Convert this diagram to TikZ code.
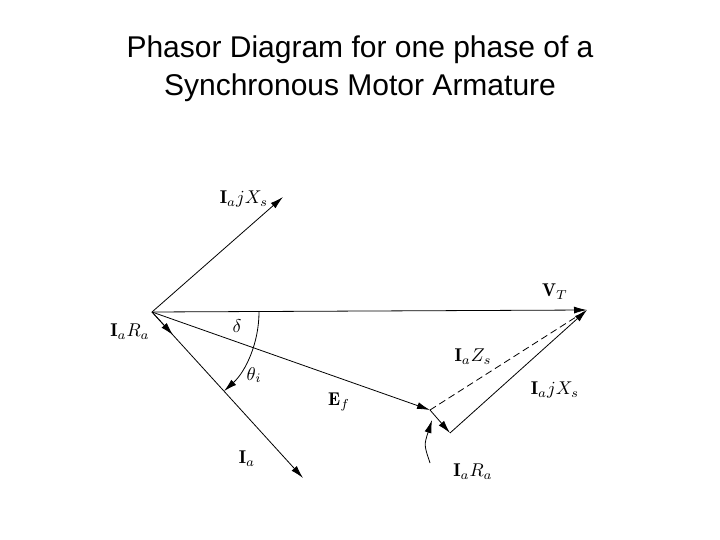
\documentclass[tikz,border=0pt]{standalone}
\usepackage{amsmath}
\usepackage{graphicx}
\usepackage{fontspec}
\setsansfont{Liberation Sans}
\usetikzlibrary{calc,arrows.meta}
\newcommand{\biglbl}[1]{\scalebox{1.85}{$#1$}}
\begin{document}
\begin{tikzpicture}[x=1pt,y=-1pt,>={Latex[length=13pt,width=7pt]},
    vec/.style={->,line width=0.8pt}]
      \useasboundingbox (0,0) rectangle (720,540);
      \node[font=\sffamily\fontsize{30}{38}\selectfont,align=center] (title) at (360,69) {Phasor Diagram for one phase of a\\Synchronous Motor Armature};
      \coordinate (o) at (152,312);
      \coordinate (xs) at (283,197);
      \coordinate (vt) at (587,310);
      \coordinate (ef) at (430,410);
      \coordinate (ia) at (303,478);
      \coordinate (ra) at (173,335);
      \coordinate (c) at (450,433);
      \draw[vec] (o) -- (xs);
      \draw[vec] (o) -- (vt);
      \draw[vec] (o) -- (ef);
      \draw[vec] (o) -- (ia);
      \draw[vec] (o) -- (ra);
      \draw[vec] (ef) -- (c);
      \draw[vec] (c) -- (vt);
      \draw[dash pattern=on 7pt off 4pt,line width=0.8pt] (ef) -- (vt);
      \draw[vec] (259,312) arc[start angle=0,end angle=47.7,radius=107];
      \draw[vec] (430,463) .. controls (424,445) .. (432,420);
      \node (l1) at (244,199) {\biglbl{\mathbf{I}_a jX_s}};
      \node (l2) at (555,292) {\biglbl{\mathbf{V}_T}};
      \node (l3) at (130,332) {\biglbl{\mathbf{I}_a R_a}};
      \node (l4) at (237,326) {\biglbl{\delta}};
      \node (l5) at (254,375) {\biglbl{\theta_i}};
      \node (l6) at (339,402) {\biglbl{\mathbf{E}_f}};
      \node (l7) at (473,357) {\biglbl{\mathbf{I}_a Z_s}};
      \node (l8) at (555,390) {\biglbl{\mathbf{I}_a jX_s}};
      \node (l9) at (247,459) {\biglbl{\mathbf{I}_a}};
      \node (l10) at (473,472) {\biglbl{\mathbf{I}_a R_a}};
\end{tikzpicture}
\end{document}
